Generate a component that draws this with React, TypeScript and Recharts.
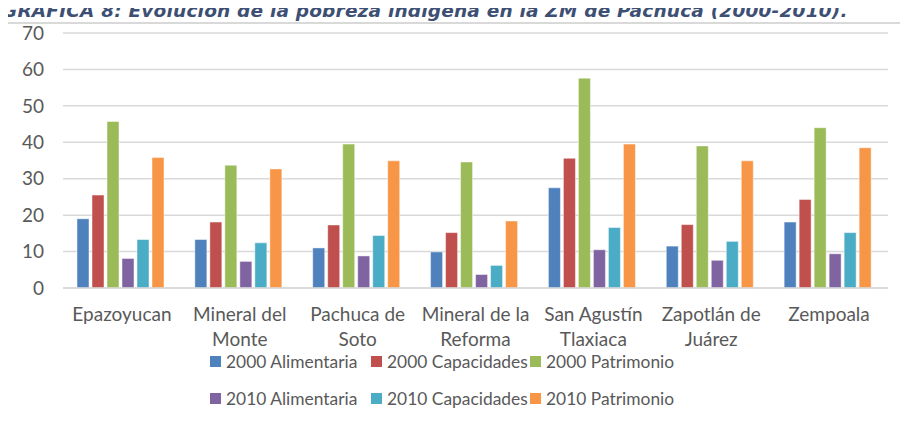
import React from "react";
import { BarChart, Bar, XAxis, YAxis, CartesianGrid } from "recharts";

const municipios = [
  "Epazoyucan",
  "Mineral del Monte",
  "Pachuca de Soto",
  "Mineral de la Reforma",
  "San Agustín Tlaxiaca",
  "Zapotlán de Juárez",
  "Zempoala",
];
const tickLines: string[][] = [
  ["Epazoyucan"],
  ["Mineral del", "Monte"],
  ["Pachuca de", "Soto"],
  ["Mineral de la", "Reforma"],
  ["San Agustín", "Tlaxiaca"],
  ["Zapotlán de", "Juárez"],
  ["Zempoala"],
];

const alim2000 = [19.0, 13.3, 11.0, 9.9, 27.5, 11.5, 18.1];
const capac2000 = [25.5, 18.1, 17.3, 15.2, 35.6, 17.4, 24.3];
const patri2000 = [45.7, 33.7, 39.5, 34.6, 57.6, 39.0, 44.0];
const alim2010 = [8.1, 7.3, 8.8, 3.7, 10.5, 7.6, 9.4];
const capac2010 = [13.3, 12.4, 14.4, 6.2, 16.6, 12.8, 15.2];
const patri2010 = [35.8, 32.7, 34.9, 18.4, 39.5, 34.9, 38.5];

const yTicks = [0, 10, 20, 30, 40, 50, 60, 70];

const series = [
  { key: "a2000", name: "2000 Alimentaria", color: "#4F81BD", values: alim2000 },
  { key: "c2000", name: "2000 Capacidades", color: "#C0504D", values: capac2000 },
  { key: "p2000", name: "2000 Patrimonio", color: "#9BBB59", values: patri2000 },
  { key: "a2010", name: "2010 Alimentaria", color: "#8064A2", values: alim2010 },
  { key: "c2010", name: "2010 Capacidades", color: "#4BACC6", values: capac2010 },
  { key: "p2010", name: "2010 Patrimonio", color: "#F79646", values: patri2010 },
];

const data = municipios.map((m, i) => {
  const row: any = { name: m, idx: i };
  series.forEach((s) => (row[s.key] = s.values[i]));
  return row;
});

const FONT = "Lato, 'Liberation Sans', sans-serif";
const TEXT = "#595959";

const CategoryTick = (props: any) => {
  const { x, y, index } = props;
  const lines = tickLines[index] || [props.payload.value];
  return (
    <text x={x} y={y} textAnchor="middle" fill={TEXT} fontSize={19} fontFamily={FONT}>
      {lines.map((l, i) => (
        <tspan key={i} x={x} dy={25}>
          {l}
        </tspan>
      ))}
    </text>
  );
};

// legend item positions (left of swatch, row centre)
const legendCols = [210, 371, 530];
const legendRows = [361, 398];

export default function App() {
  return (
    <div style={{ position: "relative", width: 908, height: 424, margin: -8, overflow: "hidden", background: "#fff" }}>
      <div
        style={{
          position: "absolute",
          left: 2,
          top: 1,
          lineHeight: "20px",
          whiteSpace: "nowrap",
          fontFamily: "'DejaVu Sans', 'Liberation Sans', sans-serif",
          fontWeight: "bold",
          fontStyle: "italic",
          fontSize: 18.5,
          letterSpacing: 0.2,
          color: "#3D4F73",
        }}
      >
        GRÁFICA 8: Evolución de la pobreza indígena en la ZM de Pachuca (2000-2010).
      </div>
      <div style={{ position: "absolute", left: 0, top: 0 }}>
        <BarChart
          width={908}
          height={424}
          data={data}
          margin={{ top: 33, right: 20, bottom: 76, left: 0 }}
          barCategoryGap={14}
          barGap={3}
        >
          <CartesianGrid vertical={false} stroke="#D9D9D9" strokeWidth={1.5} />
          <XAxis
            dataKey="name"
            height={60}
            interval={0}
            tickLine={false}
            axisLine={{ stroke: "#D9D9D9", strokeWidth: 1.5 }}
            tick={<CategoryTick />}
          />
          <YAxis
            width={63}
            domain={[0, 70]}
            ticks={yTicks}
            tickLine={false}
            axisLine={false}
            tickSize={0}
            tickMargin={19}
            tick={{ fill: TEXT, fontSize: 19, fontFamily: FONT }}
          />
          {series.map((s) => (
            <Bar
              key={s.key}
              dataKey={s.key}
              name={s.name}
              fill={s.color}
              stroke="#ffffff"
              strokeOpacity={0.45}
              strokeWidth={1}
              isAnimationActive={false}
            />
          ))}
        </BarChart>
      </div>
      <div
        style={{
          position: "absolute",
          left: 6,
          top: 22,
          width: 930,
          height: 430,
          borderLeft: "2px solid #D9D9D9",
          borderTop: "2px solid #D9D9D9",
          pointerEvents: "none",
        }}
      />
      {series.map((s, i) => {
        const left = legendCols[i % 3];
        const top = legendRows[Math.floor(i / 3)];
        return (
          <div
            key={s.key}
            style={{
              position: "absolute",
              left,
              top: top - 12,
              height: 24,
              display: "flex",
              alignItems: "center",
              fontFamily: FONT,
              fontSize: 17.4,
              color: TEXT,
              whiteSpace: "nowrap",
            }}
          >
            <span style={{ display: "inline-block", width: 11, height: 11, background: s.color, marginRight: 5 }} />
            {s.name}
          </div>
        );
      })}
    </div>
  );
}
